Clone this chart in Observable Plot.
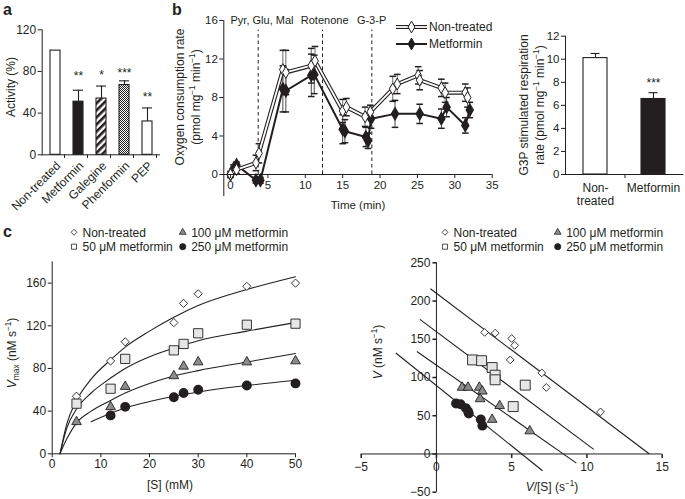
<!DOCTYPE html>
<html><head><meta charset="utf-8">
<script src="https://cdn.jsdelivr.net/npm/d3@7"></script>
<script src="https://cdn.jsdelivr.net/npm/@observablehq/plot@0.6"></script>
<style>
html,body{margin:0;padding:0;background:#fff;}
#fig{position:relative;width:685px;height:499px;overflow:hidden;background:#fff;}
</style></head>
<body><div id="fig"></div>
<script>
const INK = "#231f20";
const FONT = "'Liberation Sans', Arial, Helvetica, sans-serif";

// ---------- Panel a ----------
const aCategories = ["Non-treated", "Metformin", "Galegine", "Phenformin", "PEP"];
const aActivity = [100, 51, 54, 67, 32];
const aError = [0, 11, 12, 4, 13];
const aStars = ["", "**", "*", "***", "**"];
const aStarHeight = [null, 78, 79, 81, 58];
const aFills = ["white", INK, "url(#galegine-stripes)", "url(#phenformin-checks)", "white"];
const aYTicks = [0, 40, 80, 120];

// ---------- Panel b (time course) ----------
const bEventTimes = [3.7, 12.3, 18.9];
const bEventLabels = ["Pyr, Glu, Mal", "Rotenone", "G-3-P"];
const bEventLabelTimes = [0, 9.4, 16.9];
const bNtTime = [0, 0.8, 3.4, 3.8, 7.0, 7.4, 10.8, 11.3, 15.0, 15.5, 18.0, 18.7, 21.7, 22.3, 25.1, 25.3, 28.2, 28.7, 31.4, 31.7];
const bNtRate = [0, 0.5, 1.2, 2.2, 10.9, 10.6, 11.3, 11.8, 6.6, 7.0, 6.0, 6.5, 8.9, 9.4, 10.3, 9.8, 9.0, 8.5, 8.5, 8.0];
const bNtErr  = [0.3, 0.4, 0.8, 1.0, 2.0, 2.3, 1.8, 1.5, 1.2, 0.9, 1.0, 0.7, 1.3, 1.0, 0.9, 1.0, 0.9, 1.0, 0.9, 1.0];
const bMfTime = [0, 0.4, 0.8, 3.4, 4.0, 7.0, 7.4, 10.8, 11.2, 15.0, 15.3, 18.1, 18.4, 18.8, 22.0, 25.3, 28.2, 28.9, 31.4, 32.0];
const bMfRate = [0, 0.6, 1.0, -0.6, -0.6, 8.9, 8.7, 10.3, 10.4, 4.7, 4.5, 3.9, 3.5, 5.8, 6.3, 6.3, 5.8, 7.0, 5.1, 6.7];
const bMfErr  = [0.3, 0.4, 0.3, 0.3, 0.3, 2.4, 2.2, 2.2, 2.0, 1.5, 1.2, 1.0, 0.8, 1.0, 1.4, 1.0, 1.0, 1.0, 0.8, 0.8];
const bXTicks = [0, 5, 10, 15, 20, 25, 30, 35];
const bYTicks = [0, 4, 8, 12, 16];

// ---------- Panel b (G3P bars) ----------
const gCategories = ["Non-treated", "Metformin"];
const gRate = [10.1, 6.55];
const gError = [0.4, 0.55];
const gStars = ["", "***"];
const gStarHeight = [null, 8.2];
const gFills = ["white", INK];
const gYTicks = [0, 2, 4, 6, 8, 10, 12];

// ---------- Panel c (kinetics) ----------
const cSubstrate = [5, 12, 15, 25, 27, 30, 40, 50];
const cNonTreated = [54, 87, 105, 123, 141, 150, 157, 160];
const c50uM  = [47, 61, 89, 97, 103, 113, 121, 122];
const c100uM = [30, 44, 63, 73, 82, 86, 86, 87];
const c250uM = [null, 36, 44, 53, 57, 60, 64, 66];
const cFitS    = [1.6, 3, 5, 8, 12, 15, 20, 25, 30, 40, 50];
const cFitNT   = [0, 28, 50, 70, 88, 100, 115, 128, 139, 154, 166];
const cFit50   = [0, 24, 42, 57, 71, 80, 91, 99, 106, 115, 123];
const cFit100  = [0, 14, 29, 40, 50, 57, 66, 73, 78, 86, 94];
const cFit250S = [8, 12, 15, 20, 25, 30, 40, 50];
const cFit250  = [30, 38, 43, 49, 54, 58, 64, 69];
const cXTicks = [0, 10, 20, 30, 40, 50];
const cYTicks = [0, 40, 80, 120, 160];

// ---------- Panel c (Eadie-Hofstee) ----------
const ehNtX = [3.2, 3.9, 5.0, 5.2, 4.9, 7.0, 7.3, 10.9];
const ehNtY = [159, 158, 151, 142, 123, 106, 87, 55];
const eh50X = [2.4, 3.0, 3.7, 3.9, 3.9, 5.9, 5.1];
const eh50Y = [123, 122, 113, 103, 97, 90, 62];
const eh100X = [1.7, 2.1, 2.85, 3.05, 2.9, 4.2, 3.7, 6.2];
const eh100Y = [87, 87, 87, 82, 72, 63, 45, 30];
const eh250X = [1.3, 1.6, 1.95, 2.1, 2.15, 2.95, 3.05];
const eh250Y = [66, 65, 60, 56, 53, 45, 37];
const ehLineX1 = [-0.4, -1.1, -1.3, -2.7];
const ehLineY1 = [216, 176, 134, 132];
const ehLineX2 = [14.15, 10.45, 9.3, 7.05];
const ehLineY2 = [0, 6, -12, -22];
const ehXTicks = [-5, 0, 5, 10, 15];
const ehYTicks = [-50, 0, 50, 100, 150, 200, 250];

// ---------- helpers ----------
const fig = document.getElementById("fig");
const baseStyle = {fontFamily: FONT, fontSize: "11.5px", color: INK, background: "none", overflow: "visible"};
function place(svg, left, top) {
  svg.style.position = "absolute";
  svg.style.left = left + "px";
  svg.style.top = top + "px";
  fig.appendChild(svg);
}
const capSymbol = {draw(ctx, size) { const r = Math.sqrt(size / Math.PI); ctx.moveTo(-r, 0); ctx.lineTo(r, 0); }};
const vTick = {draw(ctx) { ctx.moveTo(0, 0); ctx.lineTo(0, 4); }};
const hTick = {draw(ctx) { ctx.moveTo(0, 0); ctx.lineTo(-4, 0); }};
const fmtMinus = d => (d < 0 ? "\u2212" + Math.abs(d) : String(d));

// ---------- Panel a plot ----------
const aData = aCategories.map((cat, i) => ({cat, v: aActivity[i], e: aError[i], top: aActivity[i] + aError[i], star: aStars[i], sy: aStarHeight[i], fill: aFills[i]}));
const svgA = Plot.plot({
  width: 170, height: 220,
  marginLeft: 41.7, marginRight: 10, marginTop: 29.3, marginBottom: 65.7,
  style: baseStyle,
  x: {domain: aCategories, paddingInner: 0.57, paddingOuter: 0.31, label: null},
  y: {domain: [0, 120], label: null},
  color: {type: "identity"},
  marks: [
    Plot.ruleX(aData.filter(d => d.e > 0), {x: "cat", y1: "v", y2: "top", stroke: INK, strokeWidth: 1.1}),
    Plot.tickY(aData.filter(d => d.e > 0), {x: "cat", y: "top", stroke: INK, strokeWidth: 1.1}),
    Plot.barY(aData, {x: "cat", y: "v", fill: "fill", stroke: INK, strokeWidth: 1.1}),
    Plot.text(aData.filter(d => d.star), {x: "cat", y: "sy", text: "star", fontSize: 12, dy: 3}),
    Plot.ruleY([0], {stroke: INK}),
    Plot.ruleX(aCategories, {x: d => d, y1: 0, y2: -3.5, dx: 9, stroke: INK}),
    Plot.frame({anchor: "left", stroke: INK}),
    Plot.axisY({ticks: aYTicks, tickSize: 4, tickPadding: 2, label: null, fontSize: 12}),
    Plot.axisX({tickRotate: -45, tickSize: 0, tickPadding: 9, dx: 3, label: null, fontSize: 12})
  ]
});
d3.select(svgA).insert("defs", ":first-child").html(`
  <pattern id="galegine-stripes" patternUnits="userSpaceOnUse" width="5" height="5" patternTransform="rotate(45)">
    <rect width="5" height="5" fill="white"/><rect width="2.6" height="5" fill="${INK}"/>
  </pattern>
  <pattern id="phenformin-checks" patternUnits="userSpaceOnUse" width="2" height="2">
    <rect width="2" height="2" fill="white"/><rect width="1" height="1" fill="${INK}"/><rect x="1" y="1" width="1" height="1" fill="${INK}"/>
  </pattern>`);
place(svgA, 0, 0);

// ---------- Panel b time course ----------
const ntData = bNtTime.map((t, i) => ({t, v: bNtRate[i], lo: bNtRate[i] - bNtErr[i], hi: bNtRate[i] + bNtErr[i]}));
const mfData = bMfTime.map((t, i) => ({t, v: bMfRate[i], lo: bMfRate[i] - bMfErr[i], hi: bMfRate[i] + bMfErr[i]}));
const evData = bEventLabels.map((label, i) => ({label, t: bEventLabelTimes[i]}));
const svgB = Plot.plot({
  width: 340, height: 215,
  marginLeft: 53.3, marginRight: 18.3, marginTop: 20, marginBottom: 41,
  style: baseStyle,
  x: {domain: [-0.9, 35], label: null},
  y: {domain: [0, 16], label: null},
  marks: [
    Plot.ruleX(bEventTimes, {x: d => d, y1: 0, y2: 15, stroke: INK, strokeDasharray: "3.5,3"}),
    Plot.ruleX(mfData, {x: "t", y1: "lo", y2: "hi", stroke: "#4a4a4a", strokeWidth: 1}),
    Plot.ruleX(ntData, {x: "t", y1: "lo", y2: "hi", stroke: "#6a6a6a", strokeWidth: 1}),
    Plot.dot(mfData, {x: "t", y: "hi", symbol: capSymbol, r: 3.3, fill: "none", stroke: INK}),
    Plot.dot(mfData, {x: "t", y: "lo", symbol: capSymbol, r: 3.3, fill: "none", stroke: INK}),
    Plot.dot(ntData, {x: "t", y: "hi", symbol: capSymbol, r: 3.3, fill: "none", stroke: INK}),
    Plot.dot(ntData, {x: "t", y: "lo", symbol: capSymbol, r: 3.3, fill: "none", stroke: INK}),
    Plot.line(mfData, {x: "t", y: "v", stroke: INK, strokeWidth: 2}),
    Plot.dot(mfData, {x: "t", y: "v", symbol: "diamond", r: 3.6, fill: INK, stroke: INK}),
    Plot.line(ntData, {x: "t", y: "v", stroke: INK, strokeWidth: 4}),
    Plot.line(ntData, {x: "t", y: "v", stroke: "white", strokeWidth: 1.8}),
    Plot.dot(ntData, {x: "t", y: "v", symbol: "diamond", r: 3.6, fill: "white", stroke: INK, strokeWidth: 1}),
    Plot.ruleY([0], {stroke: INK}),
    Plot.ruleX([-0.9], {y1: -2.3, y2: 16, stroke: INK}),
    Plot.axisX({ticks: bXTicks, tickSize: 4, tickPadding: 2, label: null, fontSize: 11.5}),
    Plot.axisY({ticks: bYTicks, tickSize: 4, tickPadding: 2, label: null, fontSize: 11.5}),
    Plot.text(evData, {x: "t", y: 16, text: "label", textAnchor: "start", fontSize: 11})
  ]
});
place(svgB, 170, 0);

// ---------- Panel b G3P bars ----------
const gData = gCategories.map((cat, i) => ({cat, v: gRate[i], top: gRate[i] + gError[i], star: gStars[i], sy: gStarHeight[i], fill: gFills[i]}));
const svgG = Plot.plot({
  width: 165, height: 215,
  marginLeft: 45, marginRight: 1.7, marginTop: 35.7, marginBottom: 41,
  style: baseStyle,
  x: {domain: gCategories, paddingInner: 0.59, paddingOuter: 0.3, label: null},
  y: {domain: [0, 12], label: null},
  color: {type: "identity"},
  marks: [
    Plot.ruleX(gData, {x: "cat", y1: "v", y2: "top", stroke: INK, strokeWidth: 1.1}),
    Plot.tickY(gData, {x: "cat", y: "top", stroke: INK, strokeWidth: 1.1, insetLeft: 7.5, insetRight: 7.5}),
    Plot.barY(gData, {x: "cat", y: "v", fill: "fill", stroke: INK, strokeWidth: 1.1}),
    Plot.text(gData.filter(d => d.star), {x: "cat", y: "sy", text: "star", fontSize: 12, dy: 3}),
    Plot.ruleY([0], {stroke: INK}),
    Plot.ruleX([gCategories[0]], {x: d => d, y1: 0, y2: -0.35, dx: 29.5, stroke: INK}),
    Plot.frame({anchor: "left", stroke: INK}),
    Plot.axisY({ticks: gYTicks, tickSize: 4, tickPadding: 2, label: null, fontSize: 11.5}),
    Plot.axisX({tickSize: 0, tickPadding: 8, label: null, fontSize: 12, lineHeight: 1.1,
      tickFormat: d => d === "Non-treated" ? "Non-\ntreated" : d})
  ]
});
place(svgG, 520, 0);

// ---------- Panel c kinetics ----------
const pts = (xs, ys) => xs.map((x, i) => ({x, y: ys[i]})).filter(d => d.y != null);
const fits = [
  ...pts(cFitS, cFitNT).map(d => ({...d, s: "nt"})),
  ...pts(cFitS, cFit50).map(d => ({...d, s: "50"})),
  ...pts(cFitS, cFit100).map(d => ({...d, s: "100"})),
  ...pts(cFit250S, cFit250).map(d => ({...d, s: "250"}))
];
const svgC = Plot.plot({
  width: 310, height: 279,
  marginLeft: 51.7, marginRight: 15, marginTop: 41.3, marginBottom: 45.7,
  style: baseStyle,
  x: {domain: [0, 50], label: null},
  y: {domain: [0, 180], label: null},
  marks: [
    Plot.line(fits, {x: "x", y: "y", z: "s", curve: "monotone-x", stroke: INK, strokeWidth: 1.1}),
    Plot.dot(pts(cSubstrate, cNonTreated), {x: "x", y: "y", symbol: "diamond2", r: 3.7, fill: "white", stroke: INK, strokeWidth: 0.9}),
    Plot.dot(pts(cSubstrate, c50uM), {x: "x", y: "y", symbol: "square", r: 5.2, fill: "#e6e6e6", stroke: INK, strokeWidth: 0.9}),
    Plot.dot(pts(cSubstrate, c100uM), {x: "x", y: "y", symbol: "triangle", r: 3.6, fill: "#8c8c8c", stroke: INK, strokeWidth: 0.9}),
    Plot.dot(pts(cSubstrate, c250uM), {x: "x", y: "y", symbol: "circle", r: 4.2, fill: INK, stroke: INK}),
    Plot.ruleY([0], {stroke: INK}),
    Plot.ruleX([0], {y1: 0, y2: 180, stroke: INK}),
    Plot.axisX({ticks: cXTicks, tickSize: 4, tickPadding: 2, label: null, fontSize: 12}),
    Plot.axisY({ticks: cYTicks, tickSize: 4, tickPadding: 2, label: null, fontSize: 12})
  ]
});
place(svgC, 0, 220);

// ---------- Panel c Eadie-Hofstee ----------
const ehLines = ehLineX1.map((x1, i) => ({x1, y1: ehLineY1[i], x2: ehLineX2[i], y2: ehLineY2[i]}));
const svgE = Plot.plot({
  width: 355, height: 279,
  marginLeft: 30.7, marginRight: 23.3, marginTop: 42.3, marginBottom: 7.3,
  style: baseStyle,
  x: {domain: [-5, 15], label: null, axis: null},
  y: {domain: [-50, 250], label: null, axis: null},
  marks: [
    Plot.ruleY([0], {x1: -5, x2: 15, stroke: INK}),
    Plot.ruleX([0], {y1: -50, y2: 250, stroke: INK}),
    Plot.dot(ehXTicks, {x: d => d, y: 0, symbol: vTick, r: 1, fill: "none", stroke: INK}),
    Plot.text(ehXTicks, {x: d => d, y: 0, dy: 13, text: fmtMinus, fontSize: 12}),
    Plot.dot(ehYTicks, {x: 0, y: d => d, symbol: hTick, r: 1, fill: "none", stroke: INK}),
    Plot.text(ehYTicks, {x: 0, y: d => d, dx: -6, textAnchor: "end", text: fmtMinus, fontSize: 12}),
    Plot.link(ehLines, {x1: "x1", y1: "y1", x2: "x2", y2: "y2", stroke: INK, strokeWidth: 1.1}),
    Plot.dot(pts(ehNtX, ehNtY), {x: "x", y: "y", symbol: "diamond2", r: 3.5, fill: "white", stroke: INK, strokeWidth: 0.9}),
    Plot.dot(pts(eh50X, eh50Y), {x: "x", y: "y", symbol: "square", r: 5.6, fill: "#e6e6e6", stroke: INK, strokeWidth: 0.9}),
    Plot.dot(pts(eh100X, eh100Y), {x: "x", y: "y", symbol: "triangle", r: 3.6, fill: "#8c8c8c", stroke: INK, strokeWidth: 0.9}),
    Plot.dot(pts(eh250X, eh250Y), {x: "x", y: "y", symbol: "circle", r: 4.2, fill: INK, stroke: INK})
  ]
});
place(svgE, 330, 220);

// ---------- overlay: panel letters, axis titles, legends ----------
const ov = d3.select(fig).append("svg")
  .attr("width", 685).attr("height", 499)
  .style("position", "absolute").style("left", "0px").style("top", "0px")
  .style("overflow", "visible").style("pointer-events", "none")
  .attr("font-family", FONT).attr("fill", INK);

function rich(x, y, parts, {rotate = 0, size = 12, anchor = "middle", weight = "normal"} = {}) {
  const t = ov.append("text")
    .attr("transform", `translate(${x},${y}) rotate(${rotate})`)
    .attr("text-anchor", anchor).attr("font-size", size).attr("font-weight", weight).attr("fill", INK);
  let shift = 0;
  for (const p of parts) {
    const [str, kind] = Array.isArray(p) ? p : [p, ""];
    const ts = t.append("tspan").text(str);
    let target = 0;
    if (kind.includes("sup")) { target = -0.4 * size; ts.attr("font-size", size * 0.68); }
    if (kind.includes("sub")) { target = 0.28 * size; ts.attr("font-size", size * 0.7); }
    if (kind.includes("it")) ts.attr("font-style", "italic");
    if (target !== shift) { ts.attr("dy", target - shift); shift = target; }
  }
  return t;
}

// panel letters
rich(3, 15, ["a"], {anchor: "start", size: 16, weight: "bold"});
rich(172, 15, ["b"], {anchor: "start", size: 16, weight: "bold"});
rich(3, 237, ["c"], {anchor: "start", size: 16, weight: "bold"});

// axis titles
rich(14.5, 87, ["Activity (%)"], {rotate: -90, size: 12});
rich(184, 97, ["Oxygen consumption rate"], {rotate: -90, size: 12});
rich(199.5, 97, ["(pmol mg", ["\u22121", "sup"], " min", ["\u22121", "sup"], ")"], {rotate: -90, size: 12});
rich(358, 209, ["Time (min)"], {size: 11.5});
rich(528, 105, ["G3P stimulated respiration"], {rotate: -90, size: 12});
rich(543.5, 105, ["rate (pmol mg", ["\u22121", "sup"], " min", ["\u22121", "sup"], ")"], {rotate: -90, size: 12});
rich(16, 353, [["V", "it"], ["max", "sub"], " (nM s", ["\u22121", "sup"], ")"], {rotate: -90, size: 12});
rich(170, 489, ["[S] (mM)"], {size: 12});
rich(382, 352, [["V", "it"], " (nM s", ["\u22121", "sup"], ")"], {rotate: -90, size: 12});
rich(552, 491, [["V", "it"], "/[S] (s", ["\u22121", "sup"], ")"], {size: 12});

// legend b
function lineLegend(y, white, label) {
  ov.append("line").attr("x1", 396).attr("x2", 427).attr("y1", y).attr("y2", y).attr("stroke", INK).attr("stroke-width", white ? 4 : 2);
  if (white) ov.append("line").attr("x1", 396).attr("x2", 427).attr("y1", y).attr("y2", y).attr("stroke", "white").attr("stroke-width", 1.8);
  ov.append("path").attr("d", d3.symbol(d3.symbolDiamond, 40)()).attr("transform", `translate(411.5,${y})`)
    .attr("fill", white ? "white" : INK).attr("stroke", INK);
  rich(429, y + 4.3, [label], {anchor: "start", size: 12});
}
lineLegend(27, true, "Non-treated");
lineLegend(44, false, "Metformin");

// legends c
function symLegend(x, y, sym, size, fill, label) {
  ov.append("path").attr("d", d3.symbol(sym, size)()).attr("transform", `translate(${x},${y})`)
    .attr("fill", fill).attr("stroke", INK).attr("stroke-width", 0.8);
  rich(x + 8.5, y + 4.3, [label], {anchor: "start", size: 12});
}
for (const [x0, x1] of [[74, 182.7], [445, 557.7]]) {
  symLegend(x0, 232.3, d3.symbolDiamond2, 22, "white", "Non-treated");
  symLegend(x1, 232.3, d3.symbolTriangle, 20, "#8c8c8c", "100 \u03bcM metformin");
  symLegend(x0, 246.7, d3.symbolSquare, 26, "white", "50 \u03bcM metformin");
  symLegend(x1, 246.7, d3.symbolCircle, 30, INK, "250 \u03bcM metformin");
}
</script>
</body></html>
